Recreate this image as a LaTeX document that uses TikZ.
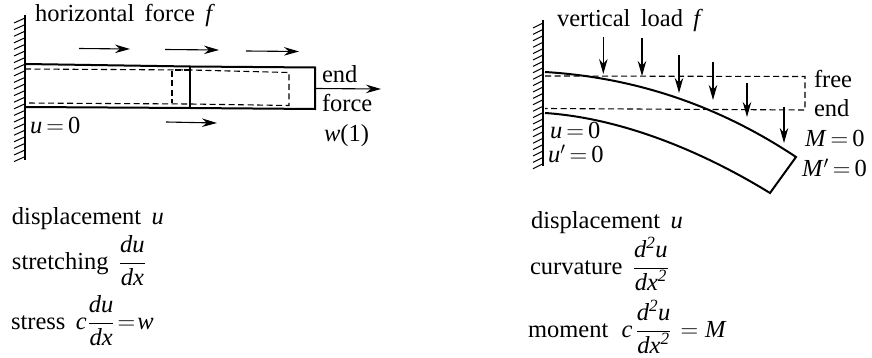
\documentclass[tikz,border=0pt]{standalone}
\usepackage{fix-cm}
\usepackage{fontspec}
\setmainfont[WordSpace=1.7]{Liberation Serif}
\usetikzlibrary{arrows.meta}
\newcommand{\iu}{\textit{u}}
\newcommand{\dfr}[2]{\mbox{$\displaystyle\frac{\textit{#1}}{\textit{#2}}$}}
\tikzset{
  lbl/.style={inner sep=0pt,outer sep=0pt,anchor=base west,font=\fontsize{24.5}{28}\selectfont},
  wallline/.style={line width=1.3pt},
  hatchline/.style={line width=1pt},
  beamline/.style={line width=2pt,line join=miter},
  dashline/.style={line width=1.1pt,dash pattern=on 6pt off 3.5pt},
  forcearrow/.style={line width=1.1pt,-{Stealth[length=15pt,width=8.5pt]}}
}
\begin{document}
\begin{tikzpicture}[x=1pt,y=-1pt]
\useasboundingbox (0,0) rectangle (872,358);
% left wall
\draw[wallline] (25,15) -- (25,160);
\foreach \y in {18,24.6,...,160}{\draw[hatchline] (25,\y) -- (14,\y+5);}
% left beam
\draw[dashline] (25,69) -- (190,70) -- (289,72.5) -- (289,105.5) -- (190,104) -- (25,103);
\draw[dashline] (190,70) -- (172,70) -- (172,103);
\draw[beamline] (25,64) -- (190,66.5) -- (315,67.5) -- (315,109) -- (190,108) -- (25,107);
\draw[beamline] (190,66.5) -- (190,108);
\coordinate (la1) at (79,48.5); \coordinate (la2) at (130,49);
\coordinate (lb1) at (165,49.5); \coordinate (lb2) at (219,50);
\coordinate (lc1) at (246,51); \coordinate (lc2) at (299,51.5);
\coordinate (ld1) at (166,122); \coordinate (ld2) at (217,123);
\coordinate (le1) at (316,88.5); \coordinate (le2) at (381,89);
\draw[forcearrow] (la1) -- (la2);
\draw[forcearrow] (lb1) -- (lb2);
\draw[forcearrow] (lc1) -- (lc2);
\draw[forcearrow] (ld1) -- (ld2);
\draw[forcearrow] (le1) -- (le2);
\node[lbl] (t1) at (35,21.5) {horizontal force \textit{f}};
\node[lbl] (t2) at (30,134) {\iu\,$=$\,0};
\node[lbl] (t3) at (322,83) {end};
\node[lbl] (t4) at (322,112) {force};
\node[lbl] (t5) at (324,142) {\textit{w}(1)};
\node[lbl] (t6) at (12,224) {displacement \iu};
\node[lbl] (t7) at (12,269) {stretching \dfr{du}{dx}};
\node[lbl] (t8) at (11,329) {stress \textit{c}\hspace{1pt}\dfr{du}{dx}\hspace{3pt}$=$\hspace{2pt}\textit{w}};
% right wall
\draw[wallline] (543,20) -- (543,166);
\foreach \y in {23,29.4,...,166}{\draw[hatchline] (543,\y) -- (533,\y+5);}
% right beam
\draw[dashline] (545,76) -- (805,76.5) -- (805,110) -- (545,108.5);
\draw[beamline] (545,72) .. controls (610,76) and (700,93) .. (796,157) -- (770,193) .. controls (700,150) and (620,118) .. (545,113);
\draw[forcearrow] (603.3,37) -- (603.3,74);
\draw[forcearrow] (642,38) -- (642,76);
\draw[forcearrow] (679,55) -- (679,93);
\draw[forcearrow] (713,62) -- (713,100);
\draw[forcearrow] (747,83) -- (747,117);
\draw[forcearrow] (784,107) -- (784,143);
\node[lbl] (r1) at (557,26.5) {vertical load \textit{f}};
\node[lbl] (r2) at (814,88) {free};
\node[lbl] (r3) at (814,117) {end};
\node[lbl] (r4) at (805,147) {\textit{M}\,$=$\,0};
\node[lbl] (r5) at (802,177) {\textit{M}$'$\,$=$\,0};
\node[lbl] (r6) at (550,139) {\iu\,$=$\,0};
\node[lbl] (r7) at (548,163) {\iu$'$\,$=$\,0};
\node[lbl] (r8) at (531,228) {displacement \iu};
\node[lbl] (r9) at (530,274) {curvature \dfr{d\textsuperscript{2}u}{dx\textsuperscript{2}}};
\node[lbl] (r10) at (528,337) {moment\hspace{3pt} \textit{c}\hspace{3pt}\dfr{d\textsuperscript{2}u}{dx\textsuperscript{2}}\hspace{9pt}$=$\hspace{7pt}\textit{M}};
\end{tikzpicture}
\end{document}
